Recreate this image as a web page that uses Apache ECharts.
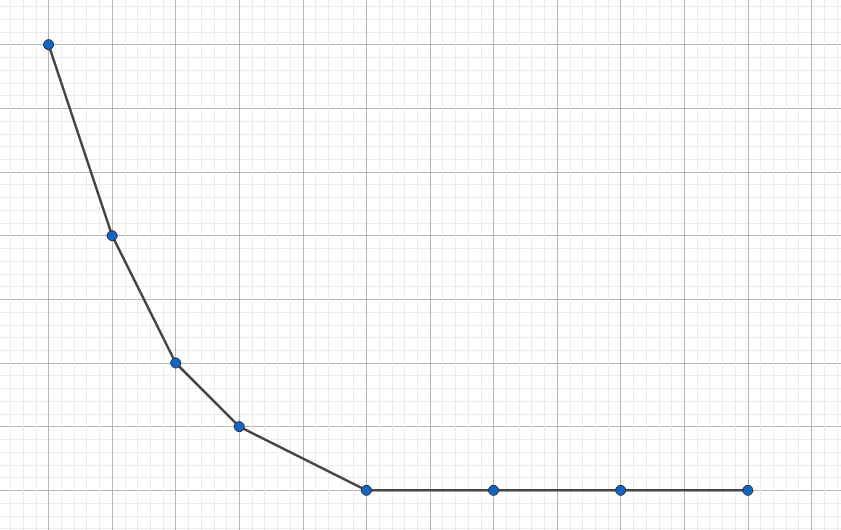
<!DOCTYPE html>
<html>
<head>
<meta charset="utf-8">
<script src="https://cdn.jsdelivr.net/npm/echarts@6/dist/echarts.min.js"></script>
<style>
    html, body { margin: 0; padding: 0; background: #fff; overflow: hidden; }
    body { width: 841px; height: 530px; position: relative; }
    /* chart area is a bit larger than the window so grid starts on whole units */
    #chart { position: absolute; left: -15px; top: -19px; width: 890px; height: 573px; }
</style>
</head>
<body>
<div id="chart"></div>
<script>
    // data, in grid units
    var xValues = [0, 1, 2, 3, 5, 7, 9, 11];
    var yValues = [7, 4, 2, 1, 0, 0, 0, 0];

    var points = [];
    for (var i = 0; i < xValues.length; i++) {
        points.push([xValues[i], yValues[i]]);
    }

    function gridAxis(min, max) {
        return {
            type: 'value',
            min: min,
            max: max,
            interval: 1,
            axisLine: { show: false },
            axisTick: { show: false },
            axisLabel: { show: false },
            splitLine: { show: true, lineStyle: { color: '#b5b5b5', width: 1 } },
            minorTick: { show: false, splitNumber: 5 },
            minorSplitLine: { show: true, lineStyle: { color: '#ebebeb', width: 1 } }
        };
    }

    var myChart = echarts.init(document.getElementById('chart'));
    myChart.setOption({
        animation: false,
        grid: { left: 0, right: 0, top: 0, bottom: 0 },
        xAxis: gridAxis(-1, 13),
        yAxis: gridAxis(-1, 8),
        series: [{
            type: 'line',
            data: points,
            clip: false,
            symbol: 'circle',
            symbolSize: 10,
            lineStyle: { color: '#444444', width: 2.5 },
            itemStyle: { color: '#1565c0', borderColor: '#1b2b45', borderWidth: 1 }
        }]
    });
</script>
</body>
</html>
